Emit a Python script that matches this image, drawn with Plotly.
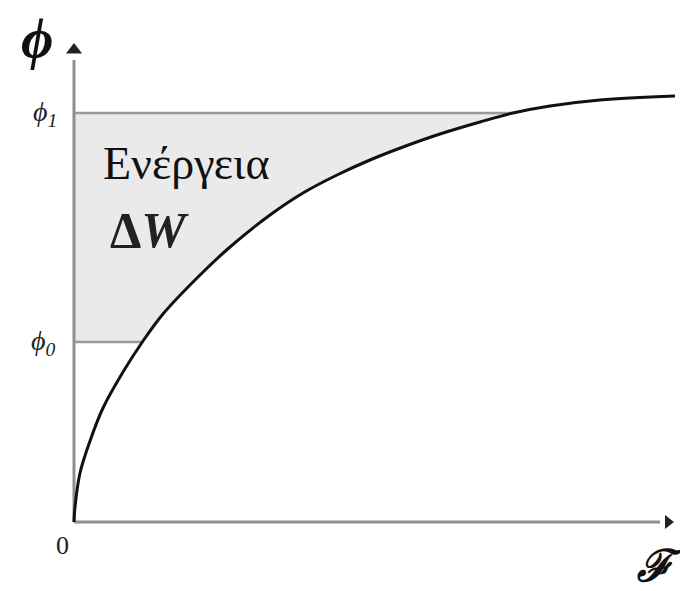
import numpy as np
import plotly.graph_objects as go

# Magnetisation curve phi(F), arbitrary units
F_curve = [0, 1, 6, 16, 29, 49, 69, 89, 123, 156, 196, 229, 263, 296, 329, 366, 406, 439, 476, 526, 601]
phi_curve = [0, 15, 49, 81, 114, 150, 181, 208, 244, 275, 307, 329, 347, 362, 375, 388, 400, 409, 416, 422, 426]

phi_levels = [180, 409]          # phi0, phi1
level_labels = ["ϕ<sub>0</sub>", "ϕ<sub>1</sub>"]
origin_label = "0"
x_label = "ℱ"
y_label = "ϕ"
energy_label = "Ενέργεια"
dw_label = "<b>Δ<i>W</i></b>"

F_arr = np.array(F_curve, dtype=float)
phi_arr = np.array(phi_curve, dtype=float)
phi0, phi1 = phi_levels
F0 = float(np.interp(phi0, phi_arr, F_arr))
F1 = float(np.interp(phi1, phi_arr, F_arr))
mask = (phi_arr > phi0) & (phi_arr < phi1)
fill_x = [0, F0] + list(F_arr[mask]) + [F1, 0, 0]
fill_y = [phi0, phi0] + list(phi_arr[mask]) + [phi1, phi1, phi0]

AX = "#8f8f8f"
fig = go.Figure()

# shaded energy region
fig.add_trace(go.Scatter(x=fill_x, y=fill_y, mode="lines", fill="toself",
                         fillcolor="#eaeaea", line=dict(width=0),
                         hoverinfo="skip", showlegend=False))

# horizontal level lines
for lvl, Fx in zip(phi_levels, [F0, F1]):
    fig.add_trace(go.Scatter(x=[0, Fx], y=[lvl, lvl], mode="lines",
                             line=dict(color="#9a9a9a", width=2.5),
                             hoverinfo="skip", showlegend=False))

# axes
fig.add_trace(go.Scatter(x=[0, 0], y=[0, 462], mode="lines",
                         line=dict(color=AX, width=3), showlegend=False, hoverinfo="skip"))
fig.add_trace(go.Scatter(x=[0, 586], y=[0, 0], mode="lines",
                         line=dict(color=AX, width=3), showlegend=False, hoverinfo="skip"))
fig.add_trace(go.Scatter(x=[0], y=[472], mode="markers",
                         marker=dict(symbol="triangle-up", size=14, color="#222"),
                         showlegend=False, hoverinfo="skip"))
fig.add_trace(go.Scatter(x=[594], y=[0], mode="markers",
                         marker=dict(symbol="triangle-right", size=12, color="#222"),
                         showlegend=False, hoverinfo="skip"))

# curve
fig.add_trace(go.Scatter(x=F_curve, y=phi_curve, mode="lines",
                         line=dict(color="#111", width=3, shape="spline", smoothing=1.0),
                         showlegend=False, hoverinfo="skip"))

serif = "Liberation Serif"
ann = []
ann.append(dict(x=-37, y=483, text=f"<b><i>{y_label}</i></b>", font=dict(family=serif, size=56, color="#111")))
ann.append(dict(x=-29, y=phi1, text=f"<i>{level_labels[1]}</i>", font=dict(family=serif, size=28, color="#222")))
ann.append(dict(x=-31, y=phi0, text=f"<i>{level_labels[0]}</i>", font=dict(family=serif, size=28, color="#222")))
ann.append(dict(x=-12, y=-23, text=origin_label, font=dict(family=serif, size=26, color="#222")))
ann.append(dict(x=586, y=-43, text=f"<b><i>{x_label}</i></b>", font=dict(family="DejaVu Serif", size=44, color="#111")))
ann.append(dict(x=112, y=359, text=energy_label, font=dict(family=serif, size=46, color="#111")))
ann.append(dict(x=75, y=292, text=dw_label, font=dict(family=serif, size=50, color="#222")))
for a in ann:
    a.update(xref="x", yref="y", showarrow=False)

# the page adds an 8px body margin, so the figure is 8px smaller and shifted
fig.update_layout(
    width=680, height=583,
    margin=dict(l=0, r=0, t=0, b=0),
    paper_bgcolor="white", plot_bgcolor="white",
    xaxis=dict(range=[-66, 614], visible=False, fixedrange=True),
    yaxis=dict(range=[-69, 514], visible=False, fixedrange=True),
    annotations=ann,
    showlegend=False,
)
fig.write_html("out.html")
